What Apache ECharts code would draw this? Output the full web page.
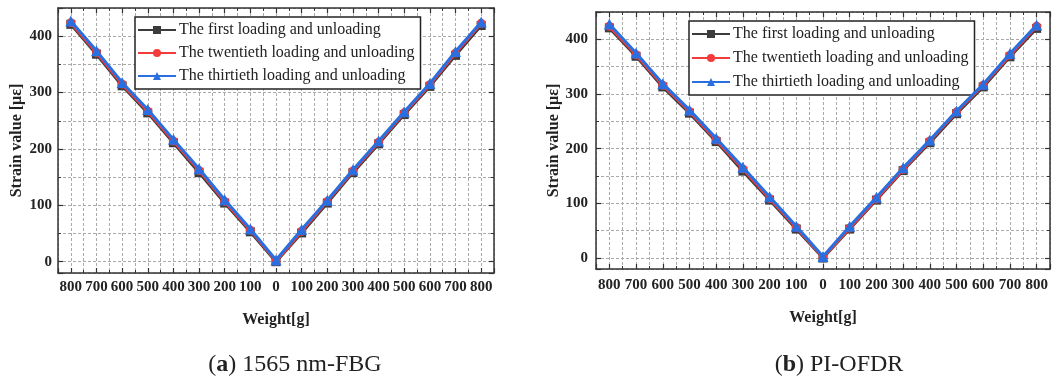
<!DOCTYPE html>
<html>
<head>
<meta charset="utf-8">
<script src="https://cdn.jsdelivr.net/npm/echarts@6/dist/echarts.min.js"></script>
<style>
    html, body { margin: 0; padding: 0; background: #fff; }
    #chart { width: 1053px; height: 382px; }
</style>
</head>
<body>
<div id="chart"></div>
<script>
// 横轴：先卸载后加载的砝码重量
var weightLabels = ['800', '700', '600', '500', '400', '300', '200', '100', '0',
    '100', '200', '300', '400', '500', '600', '700', '800'];
var seriesNames = ['The first loading and unloading',
    'The twentieth loading and unloading',
    'The thirtieth loading and unloading'];

// (a) 1565 nm-FBG
var fbgFirst = [421, 368, 312, 264, 211, 158, 104, 53, 0, 51, 104, 158, 209, 261, 311, 366, 419];
var fbgTwentieth = [424, 371, 315, 267, 214, 162, 107, 56, 1, 54, 107, 161, 212, 264, 314, 370, 423];
var fbgThirtieth = [427, 374, 318, 270, 217, 165, 110, 58, 3, 57, 109, 163, 214, 266, 316, 373, 425];

// (b) PI-OFDR
var ofdrFirst = [421, 369, 313, 265, 213, 159, 106, 53, 0, 53, 106, 160, 211, 264, 313, 368, 420];
var ofdrTwentieth = [424, 372, 316, 268, 216, 163, 109, 56, 1, 55, 108, 162, 214, 267, 316, 371, 424];
var ofdrThirtieth = [428, 375, 319, 271, 219, 166, 112, 58, 3, 58, 111, 165, 216, 269, 318, 374, 426];

var colors = ['#3c3c3c', '#f43b3b', '#2a6fe0'];
var symbols = ['rect', 'circle', 'triangle'];
var serif = '"Liberation Serif", "Times New Roman", serif';
var gridColor = '#aaaaaa';

function toPoints(arr) {
    return arr.map(function (v, i) { return [i, v]; });
}

function xAxes(gridIndex, labelMargin, nameGap) {
    var base = {
        type: 'value',
        gridIndex: gridIndex,
        min: -0.5,
        max: 16.5,
        minInterval: 1,
        maxInterval: 1,
        axisLine: { show: true, onZero: false, lineStyle: { color: '#333', width: 1.5 } },
        axisTick: { show: true, inside: true, length: 5, lineStyle: { color: '#333', width: 1.2 } },
        minorTick: { show: true, splitNumber: 2, length: 3, lineStyle: { color: '#333', width: 1 } }
    };
    var bottom = Object.assign({}, base, {
        position: 'bottom',
        name: 'Weight[g]',
        nameLocation: 'middle',
        nameGap: nameGap,
        nameTextStyle: { fontFamily: serif, fontWeight: 'bold', fontSize: 16, color: '#222' },
        axisLabel: {
            margin: labelMargin,
            fontFamily: serif, fontWeight: 'bold', fontSize: 15, color: '#222',
            formatter: function (v) {
                return Number.isInteger(v) && v >= 0 ? weightLabels[v] : '';
            }
        },
        splitLine: { show: true, lineStyle: { color: gridColor, type: [3, 2], width: 1 } },
        minorSplitLine: { show: true, lineStyle: { color: gridColor, type: [3, 2], width: 1 } }
    });
    var top = Object.assign({}, base, {
        position: 'top',
        axisLabel: { show: false },
        splitLine: { show: false }
    });
    return [bottom, top];
}

function yAxes(gridIndex, labelMargin, nameGap) {
    var base = {
        type: 'value',
        gridIndex: gridIndex,
        min: -20,
        max: 450,
        minInterval: 100,
        maxInterval: 100,
        axisLine: { show: true, onZero: false, lineStyle: { color: '#333', width: 1.5 } },
        axisTick: { show: true, inside: true, length: 5, lineStyle: { color: '#333', width: 1.2 } },
        minorTick: { show: true, splitNumber: 2, length: 3, lineStyle: { color: '#333', width: 1 } }
    };
    var left = Object.assign({}, base, {
        position: 'left',
        name: 'Strain value [με]',
        nameLocation: 'middle',
        nameGap: nameGap,
        nameTextStyle: { fontFamily: serif, fontWeight: 'bold', fontSize: 16, color: '#222' },
        axisLabel: {
            margin: labelMargin,
            fontFamily: serif, fontWeight: 'bold', fontSize: 15, color: '#222',
            formatter: function (v) { return v >= 0 && v % 100 === 0 ? String(v) : ''; }
        },
        splitLine: { show: true, lineStyle: { color: gridColor, type: [3, 2], width: 1 } },
        minorSplitLine: { show: true, lineStyle: { color: gridColor, type: [3, 2], width: 1 } }
    });
    var right = Object.assign({}, base, {
        position: 'right',
        axisLabel: { show: false },
        splitLine: { show: false }
    });
    return [left, right];
}

function makeSeries(axisOffset, data) {
    return data.map(function (arr, k) {
        return {
            name: seriesNames[k],
            type: 'line',
            xAxisIndex: axisOffset,
            yAxisIndex: axisOffset,
            data: toPoints(arr),
            symbol: symbols[k],
            symbolSize: k === 2 ? 11 : 9,
            showAllSymbol: true,
            color: colors[k],
            lineStyle: { width: 3 },
            z: 3 + k
        };
    });
}

function makeLegend(left, top, itemGap) {
    return {
        orient: 'vertical',
        left: left,
        top: top,
        itemWidth: 38,
        itemHeight: 10,
        itemGap: itemGap,
        padding: [5, 6, 5, 2],
        borderColor: '#222',
        borderWidth: 1.5,
        backgroundColor: '#fff',
        data: seriesNames,
        textStyle: { fontFamily: serif, fontSize: 16, color: '#222', padding: [0, 0, 0, -2] }
    };
}

var chart = echarts.init(document.getElementById('chart'), null, { renderer: 'canvas' });

var xa = xAxes(0, 7, 39).concat(xAxes(1, 9, 41));
var ya = yAxes(0, 6, 33).concat(yAxes(1, 8, 31));

var option = {
    animation: false,
    backgroundColor: '#fff',
    title: [{
        text: '({b|a}) 1565 nm-FBG',
        left: 290,
        top: 348,
        textAlign: 'center',
        textStyle: {
            fontFamily: serif, fontSize: 24, fontWeight: 'normal', color: '#222',
            rich: { b: { fontFamily: serif, fontSize: 24, fontWeight: 'bold', color: '#222' } }
        }
    }, {
        text: '({b|b}) PI-OFDR',
        left: 834,
        top: 348,
        textAlign: 'center',
        textStyle: {
            fontFamily: serif, fontSize: 24, fontWeight: 'normal', color: '#222',
            rich: { b: { fontFamily: serif, fontSize: 24, fontWeight: 'bold', color: '#222' } }
        }
    }],
    legend: [makeLegend(135, 17, 7), makeLegend(689, 21, 8)],
    grid: [
        { left: 58, top: 8, width: 436, height: 265 },
        { left: 596, top: 12, width: 456, height: 257 }
    ],
    xAxis: xa,
    yAxis: ya,
    series: makeSeries(0, [fbgFirst, fbgTwentieth, fbgThirtieth])
        .concat(makeSeries(2, [ofdrFirst, ofdrTwentieth, ofdrThirtieth]))
};

chart.setOption(option);
</script>
</body>
</html>
